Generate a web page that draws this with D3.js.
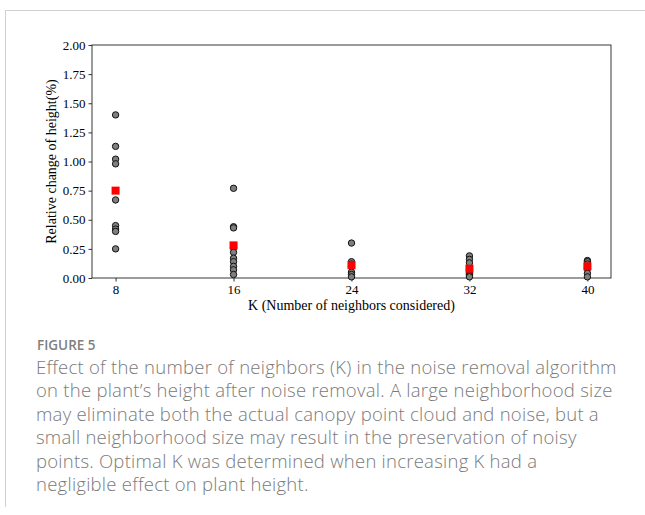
<!DOCTYPE html>
<html>
<head>
<meta charset="utf-8">
<script src="https://cdn.jsdelivr.net/npm/d3@7"></script>
<style>
  html, body { margin: 0; padding: 0; background: #fff; }
  svg { display: block; }
</style>
</head>
<body>
<svg id="chart" width="645" height="515"></svg>
<script>
// K values tested (number of neighbours)
const kValues = [8, 16, 24, 32, 40];

// Relative change of plant height (%) for each plant, per K
const samples8  = [1.40, 1.13, 1.02, 0.98, 0.67, 0.45, 0.42, 0.40, 0.25];
const samples16 = [0.77, 0.44, 0.43, 0.26, 0.22, 0.17, 0.14, 0.10, 0.07, 0.03];
const samples24 = [0.30, 0.14, 0.12, 0.10, 0.05, 0.03, 0.01];
const samples32 = [0.19, 0.16, 0.13, 0.07, 0.04, 0.03, 0.02, 0.01];
const samples40 = [0.15, 0.14, 0.12, 0.10, 0.08, 0.04, 0.01];

// Mean change per K (red squares)
const meanValues = [0.75, 0.28, 0.11, 0.08, 0.10];

const yTicks = [0, 0.25, 0.5, 0.75, 1.0, 1.25, 1.5, 1.75, 2.0];

const xLabel = "K (Number of neighbors considered)";
const yLabel = "Relative change of height(%)";
const figureTag = "FIGURE 5";
const captionLines = [
  "Effect of the number of neighbors (K) in the noise removal algorithm",
  "on the plant\u2019s height after noise removal. A large neighborhood size",
  "may eliminate both the actual canopy point cloud and noise, but a",
  "small neighborhood size may result in the preservation of noisy",
  "points. Optimal K was determined when increasing K had a",
  "negligible effect on plant height."
];

const sampleSets = [samples8, samples16, samples24, samples32, samples40];
const points = [];
sampleSets.forEach((arr, i) => arr.forEach(v => points.push({ k: kValues[i], v })));
const means = kValues.map((k, i) => ({ k, v: meanValues[i] }));

const svg = d3.select("#chart");

// Panel frame
svg.append("line").attr("x1", 5).attr("x2", 645).attr("y1", 10.5).attr("y2", 10.5)
  .attr("stroke", "#d0d0d0").attr("stroke-width", 1);
svg.append("line").attr("x1", 5.5).attr("x2", 5.5).attr("y1", 10).attr("y2", 507)
  .attr("stroke", "#d0d0d0").attr("stroke-width", 1);

const plot = { left: 92, right: 611, top: 45, bottom: 278 };

const x = d3.scaleLinear().domain([6.4, 41.6]).range([plot.left, plot.right]);
const y = d3.scaleLinear().domain([0, 2]).range([plot.bottom, plot.top]);

const serif = "'Liberation Serif', 'Times New Roman', serif";

// Axes
const xAxis = svg.append("g")
  .attr("transform", `translate(0,${plot.bottom})`)
  .call(d3.axisBottom(x).tickValues(kValues).tickSize(3.5).tickPadding(3).tickFormat(d3.format("d")));
const yAxis = svg.append("g")
  .attr("transform", `translate(${plot.left},0)`)
  .call(d3.axisLeft(y).tickValues(yTicks).tickSize(3.5).tickPadding(3).tickFormat(d3.format(".2f")));

[xAxis, yAxis].forEach(g => {
  g.select(".domain").remove();
  g.selectAll(".tick line").attr("stroke", "#000").attr("stroke-width", 0.8);
  g.selectAll(".tick text").attr("fill", "#000").style("font-family", serif).style("font-size", "13px");
});

// Full box
svg.append("rect")
  .attr("x", plot.left).attr("y", plot.top)
  .attr("width", plot.right - plot.left).attr("height", plot.bottom - plot.top)
  .attr("fill", "none").attr("stroke", "#222").attr("stroke-width", 0.9);

// Individual plant values
svg.append("g").selectAll("circle").data(points).join("circle")
  .attr("cx", d => x(d.k)).attr("cy", d => y(d.v)).attr("r", 3.2)
  .attr("fill", "#7f7f7f").attr("stroke", "#111").attr("stroke-width", 1);

// Means
const sq = 8;
svg.append("g").selectAll("rect").data(means).join("rect")
  .attr("x", d => x(d.k) - sq / 2).attr("y", d => y(d.v) - sq / 2)
  .attr("width", sq).attr("height", sq).attr("fill", "#ff0000");

// Axis titles
svg.append("text")
  .attr("x", (plot.left + plot.right) / 2).attr("y", 310)
  .attr("text-anchor", "middle")
  .style("font-family", serif).style("font-size", "14px").attr("fill", "#000")
  .text(xLabel);
svg.append("text")
  .attr("transform", `translate(56,${(plot.top + plot.bottom) / 2}) rotate(-90)`)
  .attr("text-anchor", "middle")
  .style("font-family", serif).style("font-size", "14px").attr("fill", "#000")
  .text(yLabel);

// Caption
const sans = "'Open Sans', 'Noto Sans', sans-serif";
svg.append("text")
  .attr("x", 37).attr("y", 350)
  .style("font-family", sans).style("font-size", "13.5px").style("font-weight", 600)
  .attr("fill", "#808080")
  .text(figureTag);
svg.append("g").selectAll("text").data(captionLines).join("text")
  .attr("x", 36).attr("y", (d, i) => 374 + i * 23.4)
  .style("font-family", sans).style("font-size", "18.5px").style("font-weight", 300)
  .style("letter-spacing", "0.25px")
  .attr("fill", "#7a7a7a")
  .text(d => d);
</script>
</body>
</html>
